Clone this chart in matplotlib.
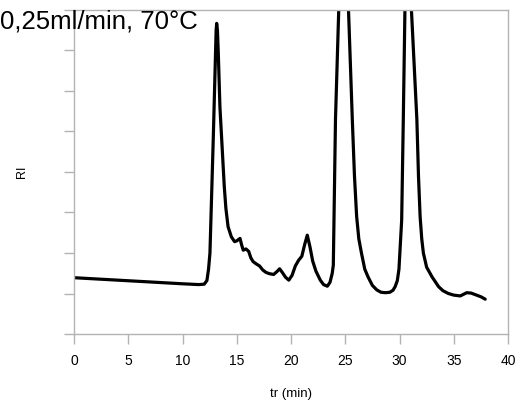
import matplotlib.pyplot as plt
import numpy as np

plt.rcParams['font.family'] = ['Liberation Sans', 'DejaVu Sans']

# retention time (min) and RI signal
tr = [0.0, 2.0, 4.0, 6.0, 8.0, 10.0, 11.5, 12.0, 12.25, 12.4, 12.53, 12.84, 13.1, 13.15,
      13.22, 13.3, 13.45, 13.6, 13.85, 14.0, 14.2, 14.5, 14.8, 15.0, 15.3, 15.45, 15.6,
      15.85, 16.1, 16.3, 16.5, 16.8, 17.1, 17.4, 17.7, 18.0, 18.4, 18.7, 18.95, 19.2,
      19.5, 19.8, 20.1, 20.4, 20.7, 21.0, 21.25, 21.5, 21.75, 22.0, 22.3, 22.7, 23.0,
      23.35, 23.6, 23.8, 23.9, 24.1, 24.4, 24.8, 25.3, 25.65, 25.85, 26.05, 26.25, 26.5,
      26.8, 27.1, 27.5, 27.9, 28.3, 28.7, 29.1, 29.4, 29.6, 29.8, 29.95, 30.2, 30.35,
      30.5, 30.8, 31.1, 31.6, 31.75, 31.9, 32.05, 32.2, 32.5, 33.0, 33.6, 34.0, 34.5,
      35.0, 35.6, 35.9, 36.2, 36.6, 37.0, 37.5, 37.9]
ri = [1.39, 1.36, 1.33, 1.30, 1.27, 1.24, 1.22, 1.23, 1.32, 1.6, 2.0, 4.87, 7.5, 7.67,
      7.5, 6.93, 5.6, 4.87, 3.64, 3.1, 2.65, 2.40, 2.28, 2.30, 2.36, 2.20, 2.07,
      2.10, 2.04, 1.88, 1.79, 1.73, 1.68, 1.58, 1.52, 1.49, 1.47, 1.54, 1.61, 1.52,
      1.40, 1.33, 1.45, 1.68, 1.82, 1.92, 2.20, 2.44, 2.15, 1.80, 1.55, 1.33, 1.22,
      1.18, 1.28, 1.5, 1.7, 5.3, 8.0, 12.0, 8.0, 5.3, 3.9, 2.9, 2.35, 1.99,
      1.6, 1.41, 1.2, 1.09, 1.03, 1.02, 1.03, 1.08, 1.17, 1.32, 1.6, 2.81, 5.3,
      8.0, 12.0, 8.0, 5.3, 3.9, 2.9, 2.35, 2.0, 1.65, 1.41, 1.17, 1.07, 1.0,
      0.96, 0.94, 0.98, 1.02, 1.01, 0.97, 0.92, 0.86]

xticks = [0, 5, 10, 15, 20, 25, 30, 35, 40]

fig = plt.figure(figsize=(5.18, 4.05), dpi=100)
ax = fig.add_axes([74 / 518, 71 / 405, 434 / 518, 324 / 405])

ax.plot(tr, ri, color='black', lw=2.3, solid_joinstyle='round', solid_capstyle='round')

ax.set_xlim(0, 40)
ax.set_ylim(0, 8)
ax.set_xticks(xticks)
ax.set_yticks(np.arange(0, 9, 1))
ax.set_yticklabels([])

for s in ax.spines.values():
    s.set_color('#b3b3b3')
    s.set_linewidth(1.0)
ax.tick_params(axis='both', color='#b3b3b3', length=7.5, width=1.0, labelsize=10)
ax.tick_params(axis='x', pad=7)

ax.set_xlabel('tr (min)', fontsize=9.5, labelpad=14)
ax.set_ylabel('RI', fontsize=9)
ax.yaxis.set_label_coords(-0.105, 0.5)

fig.text(0.0, 1 - 28 / 405, '0,25ml/min, 70°C', fontsize=18.5, ha='left', va='baseline')

fig.savefig('out.png', dpi=100)
